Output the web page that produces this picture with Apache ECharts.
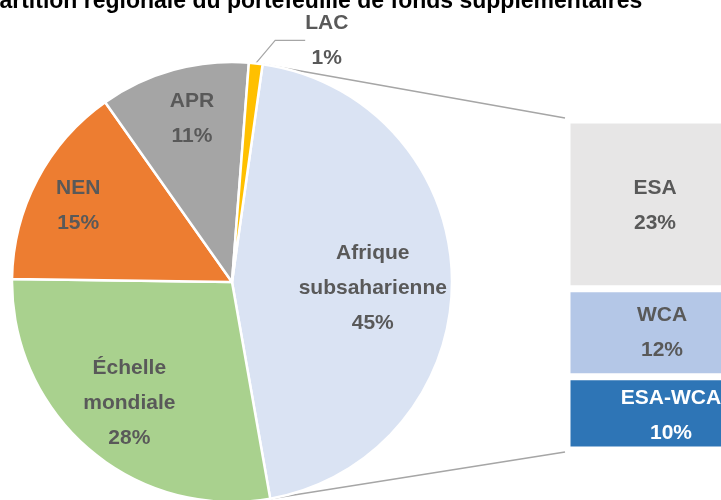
<!DOCTYPE html>
<html>
<head>
<meta charset="utf-8">
<script src="https://cdn.jsdelivr.net/npm/echarts@6/dist/echarts.min.js"></script>
<style>
  html, body { margin: 0; padding: 0; background: #fff; }
  #chart { width: 721px; height: 500px; }
</style>
</head>
<body>
<div id="chart"></div>
<script>
// données (en %)
var titleText = 'Répartition régionale du portefeuille de fonds supplémentaires';
var pieNames = ['Afrique\nsubsaharienne', 'Échelle\nmondiale', 'NEN', 'APR', 'LAC'];
var pieValues = [45, 28, 15, 11, 1];
var pieColors = ['#dae3f3', '#a9d18e', '#ed7d31', '#a5a5a5', '#ffc000'];
var barNames = ['ESA', 'WCA', 'ESA-WCA'];
var barValues = [23, 12, 10];
var barColors = ['#e7e6e6', '#b4c7e7', '#2e75b6'];

// mise en page
var cx = 232, cy = 282, R = 220, startAngle = 82;
var labelRadius = [0.64, 0.72, 0.78, 0.77, 1];
var labelShift = [[0, 9], [0, 1], [-2, 4], [5, 0], [71, -23]];
var gridLeft = 567, gridTop = 120, gridW = 186, gridH = 330;
var barLabelOffset = [[-5, 1], [2, 0], [11, 2]];

var total = pieValues.reduce(function (a, b) { return a + b; }, 0);

function midAngle(i) {
  var before = 0;
  for (var k = 0; k < i; k++) before += pieValues[k];
  return (startAngle - (before + pieValues[i] / 2) / total * 360) * Math.PI / 180;
}

var labelFont = {
  fontFamily: 'Liberation Sans',
  fontWeight: 'bold',
  fontSize: 21,
  lineHeight: 35,
  color: '#595959'
};

var myChart = echarts.init(document.getElementById('chart'));

// lignes de liaison entre la part "Afrique" et la barre
var a0 = startAngle * Math.PI / 180;
var a1 = (startAngle - pieValues[0] / total * 360) * Math.PI / 180;
var lineStyle = { stroke: '#a6a6a6', lineWidth: 1.5 };

var option = {
  animation: false,
  title: {
    text: titleText,
    left: -49,
    top: -15,
    textStyle: {
      fontFamily: 'Liberation Sans',
      fontWeight: 'bold',
      fontSize: 23,
      color: '#000'
    }
  },
  grid: {
    left: gridLeft, top: gridTop, width: gridW, height: gridH,
    outerBoundsMode: 'none'
  },
  xAxis: { type: 'category', data: ['Afrique subsaharienne'], show: false },
  yAxis: { type: 'value', min: 0, max: pieValues[0], show: false },
  graphic: [
    {
      type: 'line', z: 0,
      shape: { x1: cx + R * Math.cos(a0), y1: cy - R * Math.sin(a0), x2: gridLeft - 2, y2: gridTop - 2 },
      style: lineStyle
    },
    {
      type: 'line', z: 0,
      shape: { x1: cx + R * Math.cos(a1), y1: cy - R * Math.sin(a1), x2: gridLeft - 2, y2: gridTop + gridH + 2 },
      style: lineStyle
    }
  ],
  series: [
    {
      type: 'pie',
      center: [cx, cy],
      radius: [0, R],
      startAngle: startAngle,
      clockwise: true,
      avoidLabelOverlap: false,
      itemStyle: { borderColor: '#fff', borderWidth: 2.5 },
      label: Object.assign({
        position: 'inside',
        formatter: function (p) { return p.name + '\n' + p.value + '%'; }
      }, labelFont),
      labelLine: { show: false },
      labelLayout: function (p) {
        var i = p.dataIndex;
        var m = midAngle(i);
        return {
          x: cx + R * labelRadius[i] * Math.cos(m) + labelShift[i][0],
          y: cy - R * labelRadius[i] * Math.sin(m) + labelShift[i][1],
          align: 'center',
          verticalAlign: 'middle'
        };
      },
      data: pieNames.map(function (n, i) {
        var d = { name: n, value: pieValues[i], itemStyle: { color: pieColors[i] } };
        if (i === 4) {
          d.label = { position: 'outside' };
          d.labelLine = { show: true, lineStyle: { color: '#a6a6a6', width: 1.2 } };
        }
        return d;
      })
    }
  ].concat(barNames.slice().reverse().map(function (n) {
    var i = barNames.indexOf(n);
    return {
      type: 'bar',
      name: n,
      stack: 'autres',
      barWidth: '100%',
      data: [barValues[i]],
      itemStyle: { color: barColors[i], borderColor: '#fff', borderWidth: 3.5 },
      label: Object.assign({
        show: true,
        position: 'inside',
        offset: barLabelOffset[i],
        formatter: function (p) { return p.seriesName + '\n' + p.value + '%'; }
      }, labelFont, i === 2 ? { color: '#fff' } : {})
    };
  }))
};

myChart.setOption(option);
window.addEventListener('resize', function () {
  myChart.resize();
});
</script>
</body>
</html>
